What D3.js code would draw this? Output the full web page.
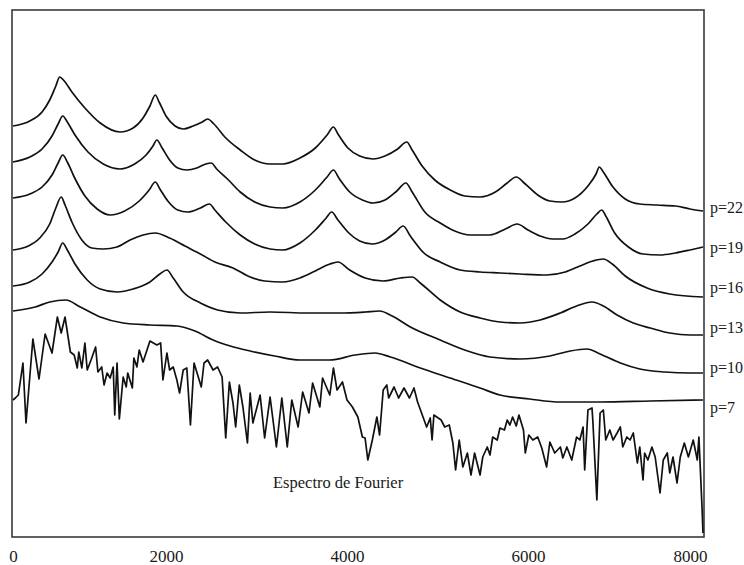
<!DOCTYPE html>
<html>
<head>
<meta charset="utf-8">
<script src="https://cdn.jsdelivr.net/npm/d3@7/dist/d3.min.js"></script>
<style>
  html, body { margin: 0; padding: 0; background: #fff; }
  svg { display: block; }
  text { font-family: "Liberation Serif", "DejaVu Serif", serif; fill: #1a1a1a; }
</style>
</head>
<body>
<svg id="chart" width="744" height="565"></svg>
<script>
// Frequency ticks (Hz)
const freqTicks = [0, 2000, 4000, 6000, 8000];

// LPC model orders, top to bottom
const orders = [22, 19, 16, 13, 10, 7];

// LPC envelopes: [frequency Hz, level (arbitrary units, stacked)]
const lpc22 = [[0,411],[220,416],[380,425],[480,437],[560,451],[610,460],[670,456],[770,445],[940,429],[1140,414],[1400,405],[1570,409],[1700,419],[1790,431],[1860,442],[1910,435],[2000,421],[2100,411],[2190,408],[2300,411],[2400,415],[2460,418],[2530,413],[2650,400],[2820,387],[2980,377],[3150,373],[3290,373],[3480,379],[3650,389],[3780,402],[3850,410],[3900,403],[4010,389],[4140,381],[4290,378],[4420,381],[4560,388],[4660,395],[4720,387],[4830,371],[4970,357],[5140,347],[5300,341],[5470,340],[5640,345],[5770,354],[5870,360],[5970,353],[6120,342],[6270,336],[6420,335],[6580,339],[6740,351],[6840,363],[6880,370],[6930,365],[7040,351],[7200,338],[7380,333],[7590,332],[7820,331],[8000,328],[8160,326]];

const lpc19 = [[0,375],[220,380],[380,388],[510,401],[590,413],[650,421],[710,415],[810,402],[980,385],[1180,373],[1400,368],[1590,373],[1740,382],[1830,391],[1880,397],[1950,389],[2040,377],[2130,369],[2230,367],[2340,369],[2440,373],[2500,374],[2560,368],[2690,357],[2820,345],[2980,335],[3150,330],[3290,329],[3480,335],[3650,347],[3780,360],[3850,367],[3910,359],[4030,345],[4170,337],[4290,334],[4420,337],[4550,346],[4650,354],[4720,345],[4860,325],[5030,314],[5190,306],[5360,302],[5580,302],[5750,308],[5880,313],[6000,307],[6150,301],[6300,298],[6430,298],[6580,303],[6740,313],[6850,323],[6910,327],[6960,321],[7070,304],[7240,290],[7420,283],[7630,282],[7820,284],[8000,287],[8160,290]];

const lpc16 = [[0,339],[220,343],[380,350],[510,362],[590,374],[650,382],[710,375],[800,360],[940,341],[1100,328],[1270,322],[1460,326],[1650,336],[1780,347],[1860,355],[1920,348],[2020,336],[2130,327],[2240,325],[2380,329],[2480,333],[2540,327],[2660,315],[2820,302],[2980,293],[3150,288],[3290,287],[3480,294],[3650,307],[3770,319],[3830,325],[3900,317],[4020,304],[4140,296],[4280,293],[4420,297],[4540,305],[4620,311],[4700,301],[4850,284],[5030,275],[5250,267],[5470,265],[5690,264],[5910,263],[6230,262],[6460,265],[6640,271],[6800,276],[6930,278],[7040,273],[7200,261],[7470,249],[7750,243],[8160,240]];

const lpc13 = [[0,287],[200,291],[350,299],[480,313],[560,329],[630,340],[680,332],[770,315],[900,297],[1030,289],[1180,288],[1360,290],[1530,297],[1700,302],[1860,304],[2040,299],[2210,291],[2380,283],[2540,275],[2740,269],[2930,260],[3090,256],[3290,255],[3480,259],[3650,266],[3810,273],[3900,275],[4030,267],[4200,259],[4400,256],[4590,259],[4720,260],[4810,254],[5030,237],[5250,225],[5470,219],[5690,215],[5910,214],[6150,217],[6400,224],[6600,231],[6790,235],[6930,231],[7100,222],[7300,214],[7510,209],[7750,204],[8000,202],[8160,202]];

const lpc10 = [[0,251],[220,255],[380,263],[510,275],[590,285],[650,294],[710,287],[810,273],[970,257],[1140,248],[1360,245],[1570,248],[1790,255],[1920,263],[2010,267],[2080,259],[2190,245],[2380,234],[2570,227],[2820,224],[3150,225],[3560,224],[3920,224],[4200,225],[4360,226],[4500,221],[4700,210],[5030,197],[5300,187],[5580,180],[5910,178],[6270,181],[6520,186],[6730,188],[6890,183],[7140,174],[7380,168],[7690,165],[8000,164],[8160,164]];

const lpc7 = [[0,226],[290,230],[480,235],[690,237],[880,230],[1140,220],[1440,214],[1790,212],[2120,211],[2320,206],[2520,197],[2710,191],[2930,186],[3200,181],[3480,177],[3810,177],[4090,182],[4310,184],[4480,180],[4810,169],[5140,159],[5470,149],[5690,142],[6020,138],[6400,135],[6890,135],[7510,136],[8160,137]];

// Raw Fourier magnitude spectrum: [frequency Hz, level]
const fourier = [[0,137],[30,139],[70,142],[130,174],[170,114],[260,198],[340,158],[420,203],[510,184],[580,220],[630,204],[680,220],[750,185],[800,182],[840,169],[860,185],[900,169],[940,194],[970,167],[1020,177],[1080,190],[1110,165],[1160,170],[1190,152],[1230,164],[1270,159],[1310,170],[1330,122],[1360,174],[1390,118],[1440,160],[1480,150],[1500,164],[1560,149],[1580,179],[1620,170],[1650,187],[1700,175],[1790,196],[1880,192],[1930,194],[1960,157],[2010,184],[2040,167],[2080,170],[2120,157],[2150,144],[2190,167],[2230,169],[2270,112],[2310,174],[2390,150],[2420,174],[2460,177],[2520,167],[2570,170],[2620,160],[2660,99],[2700,155],[2740,134],[2770,110],[2810,152],[2850,130],[2900,94],[2930,144],[2960,114],[3040,142],[3090,99],[3150,140],[3220,90],[3280,139],[3340,90],[3390,137],[3460,110],[3510,145],[3580,124],[3620,154],[3700,130],[3730,159],[3810,142],[3850,169],[3890,147],[3950,155],[4000,137],[4060,130],[4120,120],[4170,100],[4200,99],[4230,77],[4280,97],[4330,120],[4360,102],[4400,147],[4440,152],[4460,139],[4520,150],[4570,139],[4630,149],[4690,139],[4740,149],[4780,135],[4840,120],[4880,110],[4920,119],[4940,97],[4960,122],[5040,117],[5080,110],[5130,112],[5170,94],[5200,67],[5240,97],[5280,70],[5330,84],[5370,62],[5410,84],[5470,62],[5500,80],[5550,90],[5580,82],[5610,100],[5660,97],[5690,109],[5740,107],[5770,117],[5800,112],[5830,120],[5870,111],[5900,122],[5950,107],[5970,84],[6010,102],[6060,97],[6120,100],[6170,89],[6230,70],[6270,95],[6330,84],[6400,90],[6430,79],[6480,90],[6540,77],[6600,100],[6640,97],[6680,110],[6700,67],[6740,127],[6790,129],[6800,117],[6850,37],[6890,124],[6930,127],[6960,97],[7010,107],[7050,97],[7100,104],[7140,110],[7170,90],[7220,100],[7260,97],[7300,104],[7350,74],[7380,90],[7420,57],[7440,84],[7480,77],[7530,90],[7570,80],[7630,44],[7670,77],[7720,84],[7750,64],[7790,80],[7840,54],[7880,80],[7930,94],[7980,80],[8040,97],[8090,77],[8110,100],[8150,27],[8160,4]];

const envelopes = [lpc22, lpc19, lpc16, lpc13, lpc10, lpc7];
const spectrumLabel = "Espectro de Fourier";

// ---- layout ----
const frame = { left: 12, top: 10, right: 704, bottom: 537 };
const svg = d3.select("#chart");

// Frequency scale: piecewise so that tick labels sit where the original figure placed them
const x = d3.scaleLinear()
  .domain(freqTicks)
  .range([13, 166, 347, 528, 690]);

const y = d3.scaleLinear()
  .domain([0, 530])
  .range([537, 7]);

// Frame
svg.append("rect")
  .attr("x", frame.left).attr("y", frame.top)
  .attr("width", frame.right - frame.left)
  .attr("height", frame.bottom - frame.top)
  .attr("fill", "none")
  .attr("stroke", "#3a3a3a")
  .attr("stroke-width", 1.6);

const clip = svg.append("clipPath").attr("id", "plot-clip")
  .append("rect")
  .attr("x", frame.left).attr("y", frame.top)
  .attr("width", frame.right - frame.left)
  .attr("height", frame.bottom - frame.top);

const plot = svg.append("g").attr("clip-path", "url(#plot-clip)");

const smoothLine = d3.line()
  .x(d => x(d[0]))
  .y(d => y(d[1]))
  .curve(d3.curveMonotoneX);

const rawLine = d3.line()
  .x(d => x(d[0]))
  .y(d => y(d[1]))
  .curve(d3.curveLinear);

// LPC envelopes
plot.selectAll("path.env")
  .data(envelopes)
  .join("path")
  .attr("class", "env")
  .attr("d", smoothLine)
  .attr("fill", "none")
  .attr("stroke", "#111")
  .attr("stroke-width", 1.7)
  .attr("stroke-linejoin", "round");

// Fourier spectrum
plot.append("path")
  .datum(fourier)
  .attr("d", rawLine)
  .attr("fill", "none")
  .attr("stroke", "#111")
  .attr("stroke-width", 1.7)
  .attr("stroke-linejoin", "round");

// Order labels at the right of the frame
svg.selectAll("text.order")
  .data(orders)
  .join("text")
  .attr("class", "order")
  .attr("x", frame.right + 6)
  .attr("y", (d, i) => 213 + 40 * i)
  .attr("font-size", 16)
  .text(d => "p=" + d);

// Spectrum caption
svg.append("text")
  .attr("x", 273)
  .attr("y", 488)
  .attr("font-size", 16.5)
  .text(spectrumLabel);

// Frequency axis labels (no tick marks, no domain line)
const axis = d3.axisBottom(x)
  .tickValues(freqTicks)
  .tickFormat(d3.format("d"))
  .tickSize(0)
  .tickPadding(0);

const axisG = svg.append("g")
  .attr("transform", "translate(0,550)")
  .call(axis);
axisG.select(".domain").remove();
axisG.selectAll("text")
  .attr("font-family", "Liberation Serif, serif")
  .attr("font-size", 17)
  .attr("fill", "#1a1a1a")
  .attr("dy", "0.71em");
</script>
</body>
</html>
